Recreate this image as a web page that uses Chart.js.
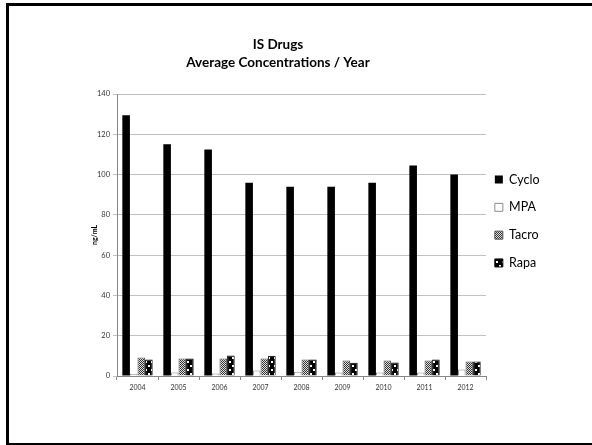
<!DOCTYPE html>
<html>
<head>
<meta charset="utf-8">
<script src="https://cdn.jsdelivr.net/npm/chart.js@4/dist/chart.umd.min.js"></script>
<style>
  html, body { margin: 0; padding: 0; background: #fff; }
  #wrap { position: relative; width: 592px; height: 445px; overflow: hidden; }
  #frame { position: absolute; left: 6px; top: 3px; width: 600px; height: 437px;
           border: 3px solid #000; border-right: none; box-sizing: content-box; }
  canvas { position: absolute; left: 0; top: 0; }
</style>
</head>
<body>
<div id="wrap">
  <div id="frame"></div>
  <canvas id="chart" width="592" height="445"></canvas>
</div>
<script>
// Average immunosuppressant drug concentrations by year (ng/mL)
const years = ['2004', '2005', '2006', '2007', '2008', '2009', '2010', '2011', '2012'];
const cyclo = [129.5, 115, 112.5, 96, 94, 94, 96, 104.5, 100];
const mpa   = [1, 1.7, 1.2, 2.7, 2.1, 1.7, 1.7, 1.7, 3.2];
const tacro = [9.2, 8.7, 8.7, 8.7, 8.2, 7.7, 7.7, 7.7, 7.2];
const rapa  = [8.2, 8.7, 10.2, 10, 8.2, 6.6, 6.7, 8.2, 7.2];
const yTicks = [0, 20, 40, 60, 80, 100, 120, 140];

const FONT = 'Lato, "Open Sans", sans-serif';

// Fill patterns for the hatched series
function makePattern(w, h, paint) {
  const c = document.createElement('canvas');
  c.width = w; c.height = h;
  const g = c.getContext('2d');
  paint(g);
  return g.createPattern(c, 'repeat');
}
const ctx = document.getElementById('chart').getContext('2d');
const checker = makePattern(2, 2, g => {
  g.fillStyle = '#e0e0e0'; g.fillRect(0, 0, 2, 2);
  g.fillStyle = '#333'; g.fillRect(0, 0, 1, 1); g.fillRect(1, 1, 1, 1);
});
const dots = makePattern(6, 8, g => {
  g.fillStyle = '#000'; g.fillRect(0, 0, 6, 8);
  g.fillStyle = '#fff'; g.fillRect(1, 1, 2, 2); g.fillRect(4, 5, 2, 2);
});

// Nudge the legend closer to the plot area
const legendShift = {
  id: 'legendShift',
  afterLayout(chart) {
    if (chart.legend) { chart.legend.left -= 6.5; chart.legend.right -= 6.5; }
  }
};

new Chart(ctx, {
  type: 'bar',
  data: {
    labels: years,
    datasets: [
      { label: 'Cyclo', data: cyclo, backgroundColor: '#000', borderColor: '#000', borderWidth: 0 },
      { label: 'MPA', data: mpa, backgroundColor: '#fff', borderColor: '#8c8c8c', borderWidth: 1 },
      { label: 'Tacro', data: tacro, backgroundColor: checker, borderColor: '#555', borderWidth: 1 },
      { label: 'Rapa', data: rapa, backgroundColor: dots, borderColor: '#000', borderWidth: 1 }
    ]
  },
  plugins: [legendShift],
  options: {
    responsive: false,
    animation: false,
    layout: { padding: { left: 0, right: 36, top: 0, bottom: 49 } },
    datasets: { bar: { categoryPercentage: 0.74, barPercentage: 1.0 } },
    plugins: {
      tooltip: { enabled: false },
      title: {
        display: true,
        text: ['IS Drugs', 'Average Concentrations / Year'],
        color: '#000',
        font: { family: FONT, size: 13.5, weight: 'bold', lineHeight: 18 / 13.5 },
        padding: { top: 36, bottom: 22 }
      },
      legend: {
        position: 'right',
        fullSize: false,
        align: 'start',
        title: { display: true, text: ' ', font: { size: 10 }, padding: { top: 52, bottom: 0 } },
        labels: {
          color: '#000',
          boxWidth: 8, boxHeight: 8,
          padding: 15.3,
          font: { family: FONT, size: 12.5 }
        }
      }
    },
    scales: {
      x: {
        grid: { display: true, drawOnChartArea: false, drawTicks: true, tickLength: 4, color: '#868686', offset: true },
        border: { display: true, color: '#868686' },
        ticks: { color: '#333', font: { family: FONT, size: 7 }, padding: 4, maxRotation: 0 },
        afterFit: s => { s.height = 20; }
      },
      y: {
        min: 0, max: 140,
        afterBuildTicks: s => { s.ticks = yTicks.map(v => ({ value: v })); },
        grid: { color: '#c0c0c0', tickLength: 4, drawTicks: true },
        border: { display: true, color: '#868686' },
        ticks: { color: '#333', font: { family: FONT, size: 7.5 }, padding: 3 },
        title: {
          display: true, text: 'ng/mL', color: '#000',
          font: { family: FONT, size: 7, weight: 'bold' },
          padding: { top: 91, bottom: 0 }
        },
        afterFit: s => { s.width = 117; }
      }
    }
  }
});
</script>
</body>
</html>
